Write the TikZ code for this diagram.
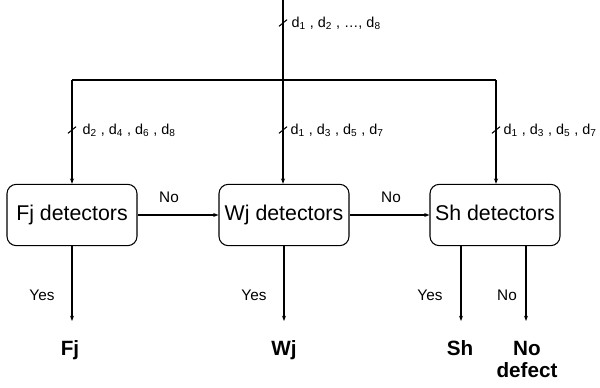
\documentclass[tikz,border=0pt]{standalone}
\usepackage{fontspec}
\setmainfont{Liberation Sans}
\usetikzlibrary{arrows.meta,positioning}

\tikzset{
  detbox/.style={draw,rounded corners=7pt,minimum width=97.5pt,minimum height=46pt,
    inner sep=0pt,text height=11.5pt,text depth=3.5pt,font=\fontsize{16}{18}\selectfont},
  lbl/.style={font=\fontsize{11.5}{13}\selectfont,inner sep=0pt},
  siglbl/.style={font=\fontsize{10.8}{13}\selectfont,inner sep=0pt,anchor=west},
  outlbl/.style={font=\fontsize{15.5}{17}\selectfont\bfseries,align=center,inner sep=0pt},
  arr/.style={-{Stealth[length=4pt,width=3pt]}},
}
\newcommand{\busmark}[1]{\draw ([xshift=-3pt,yshift=-2.5pt]#1) -- ([xshift=3pt,yshift=2.5pt]#1);}

\begin{document}
\begin{tikzpicture}[x=0.75pt,y=-0.75pt,line width=0.8pt]
  \useasboundingbox (0,0) rectangle (600,388);

  % detector boxes
  \node[detbox] (fj) at (72,215) {Fj detectors};
  \node[detbox] (wj) at (284,215) {Wj detectors};
  \node[detbox] (sh) at (495,215) {Sh detectors};

  % input bus
  \coordinate (top) at (283,0);
  \coordinate (busl) at (72,80);
  \coordinate (busm) at (283,80);
  \coordinate (busr) at (496,80);

  \draw (top) -- (busm);
  \draw (busl) -- (busr);
  \draw[arr] (busl) -- (busl |- fj.north);
  \draw[arr] (busm) -- (busm |- wj.north);
  \draw[arr] (busr) -- (busr |- sh.north);

  % bus marks and signal labels
  \coordinate (mtop) at (283,23);
  \coordinate (ml) at (72,130);
  \coordinate (mm) at (283,130);
  \coordinate (mr) at (496,130);
  \busmark{mtop}
  \busmark{ml}
  \busmark{mm}
  \busmark{mr}
  \node[siglbl] (ltop) at (291,23) {d\textsubscript{1} , d\textsubscript{2} , …, d\textsubscript{8}};
  \node[siglbl] (ll) at (82,130) {d\textsubscript{2} , d\textsubscript{4} , d\textsubscript{6} , d\textsubscript{8}};
  \node[siglbl] (lm) at (290,130) {d\textsubscript{1} , d\textsubscript{3} , d\textsubscript{5} , d\textsubscript{7}};
  \node[siglbl] (lr) at (503,130) {d\textsubscript{1} , d\textsubscript{3} , d\textsubscript{5} , d\textsubscript{7}};

  % chain of detectors
  \draw[arr] (fj.east) -- (wj.west);
  \draw[arr] (wj.east) -- (sh.west);
  \node[lbl] (no1) at (169,197) {No};
  \node[lbl] (no2) at (391,197) {No};

  % outputs
  \coordinate (fjend) at (72,321);
  \coordinate (wjend) at (284,321);
  \coordinate (shend) at (461,321);
  \coordinate (ndend) at (526,321);
  \draw[arr] (fj.south) -- (fjend);
  \draw[arr] (wj.south) -- (wjend);
  \draw[arr] (sh.south -| shend) -- (shend);
  \draw[arr] (sh.south -| ndend) -- (ndend);

  \node[lbl] (yes1) at (42,295) {Yes};
  \node[lbl] (yes2) at (254,295) {Yes};
  \node[lbl] (yes3) at (430,295) {Yes};
  \node[lbl] (no3) at (507,295) {No};

  \node[outlbl,anchor=base] (fjout) at (70,355) {Fj};
  \node[outlbl,anchor=base] (wjout) at (284,355) {Wj};
  \node[outlbl,anchor=base] (shout) at (460,355) {Sh};
  \node[outlbl,anchor=base] (nodef) at (527,355) {No};
  \node[outlbl,anchor=base] (nodef2) at (527,378) {defect};
\end{tikzpicture}
\end{document}
